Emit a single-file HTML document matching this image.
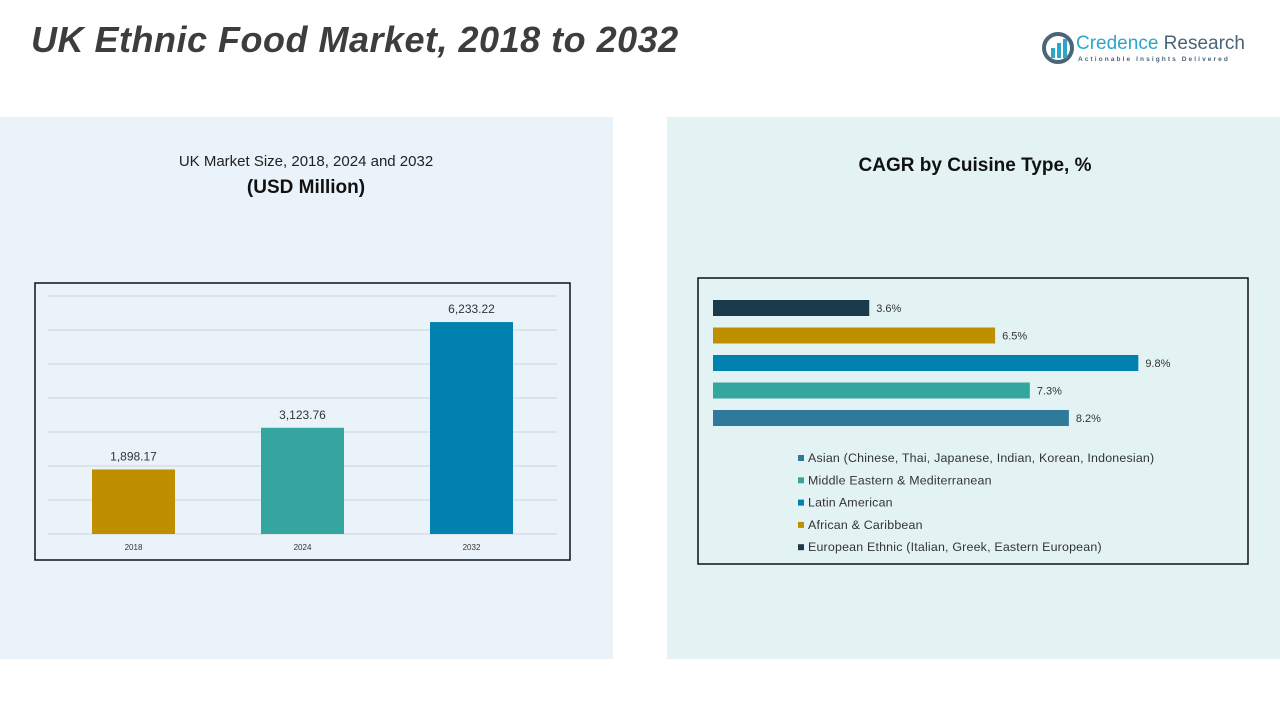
<!DOCTYPE html>
<html><head><meta charset="utf-8">
<style>
body{margin:0;width:1280px;height:720px;overflow:hidden;background:#fff;font-family:"Liberation Sans",sans-serif;position:relative}
.abs{position:absolute}
</style></head>
<body>
<div class="abs" style="left:0;top:117px;width:613px;height:542px;background:#eaf3f9"></div>
<div class="abs" style="left:667px;top:117px;width:613px;height:542px;background:#e3f3f4"></div>
<div class="abs" style="left:31px;top:19px;font-size:36px;font-weight:bold;font-style:italic;color:#3d3d3d;letter-spacing:0.5px">UK Ethnic Food Market, 2018 to 2032</div>
<div class="abs" style="left:1040px;top:30px;width:215px;height:40px">
<svg width="36" height="36" style="position:absolute;left:2px;top:2px"><circle cx="16" cy="16" r="14" fill="none" stroke="#4a6478" stroke-width="4"/><rect x="9" y="16" width="4" height="10" fill="#2aa7c8"/><rect x="15" y="11" width="4" height="15" fill="#2aa7c8"/><rect x="21" y="7" width="4" height="19" fill="#2aa7c8"/></svg>
<div class="abs" style="left:36px;top:3px;font-size:19px;white-space:nowrap"><span style="color:#2aa7c8">Credence</span> <span style="color:#4a6478">Research</span></div>
<div class="abs" style="left:38px;top:26px;font-size:6.5px;letter-spacing:2.1px;color:#4a6478;font-weight:bold;white-space:nowrap">Actionable Insights Delivered</div>
</div>
<div class="abs" style="left:100px;top:153px;width:412px;text-align:center;font-size:15px;color:#222">UK Market Size, 2018, 2024 and 2032</div>
<div class="abs" style="left:100px;top:177px;width:412px;text-align:center;font-size:19px;font-weight:bold;color:#111">(USD Million)</div>
<div class="abs" style="left:760px;top:155px;width:430px;text-align:center;font-size:19px;font-weight:bold;color:#111">CAGR by Cuisine Type, %</div>
<svg class="abs" style="left:0;top:0" width="1280" height="720" id="chart">
<rect x="35" y="283" width="535" height="277" fill="none" stroke="#111" stroke-width="1.5"/>
<rect x="698" y="278" width="550" height="286" fill="none" stroke="#111" stroke-width="1.5"/>
</svg>
<script>
const years=["2018","2024","2032"];
const marketValues=[1898.17,3123.76,6233.22];
const marketLabels=["1,898.17","3,123.76","6,233.22"];
const gridTicks=[0,1000,2000,3000,4000,5000,6000,7000];
const cuisines=["European Ethnic (Italian, Greek, Eastern European)","African & Caribbean","Latin American","Middle Eastern & Mediterranean","Asian (Chinese, Thai, Japanese, Indian, Korean, Indonesian)"];
const cagrValues=[3.6,6.5,9.8,7.3,8.2];
const cagrLabels=["3.6%","6.5%","9.8%","7.3%","8.2%"];
const legendOrder=[4,3,2,1,0];
const colors=["#1b3a4b","#c08f00","#0081b0","#35a5a0","#2f7a9a"];
const vColors=["#c08f00","#35a5a0","#0081b0"];
const NS="http://www.w3.org/2000/svg";
const svg=document.getElementById('chart');
function mk(t,a){const e=document.createElementNS(NS,t);for(const k in a)e.setAttribute(k,a[k]);svg.appendChild(e);return e;}
const yBase=534,yTop=296,yMax=7000;
const yScale=v=>yBase-(v/yMax)*(yBase-yTop);
const xBand=i=>92+i*169;
gridTicks.forEach(t=>{const l=mk('line',{x1:48,x2:557,y1:yScale(t),y2:yScale(t),stroke:'#cfd6db','stroke-width':1});

});
years.forEach((y,i)=>{
const x=xBand(i),top=yScale(marketValues[i]);
const r=mk('rect',{x:x,y:top,width:83,height:yBase-top,fill:vColors[i]});


const v=mk('text',{x:x+41.5,y:top-9,'text-anchor':'middle','font-size':12,fill:'#333'});v.textContent=marketLabels[i];


const c=mk('text',{x:x+41.5,y:550,'text-anchor':'middle','font-size':8,fill:'#333'});c.textContent=y;


});
const xs=v=>713+v*43.4;
cuisines.forEach((c,i)=>{
const y=300+i*27.5;
const r=mk('rect',{x:713,y:y,width:xs(cagrValues[i])-713,height:16,fill:colors[i]});


const t=mk('text',{x:xs(cagrValues[i])+7,y:y+12,'font-size':11,fill:'#333'});t.textContent=cagrLabels[i];


});
legendOrder.forEach((idx,j)=>{
const y=459+j*22.3;
const s=mk('rect',{x:798,y:y-4,width:6,height:6,fill:colors[idx]});


const t=mk('text',{x:808,y:y+3,'font-size':12.4,fill:'#333','letter-spacing':0.2});t.textContent=cuisines[idx];


});
</script>
</body></html>
